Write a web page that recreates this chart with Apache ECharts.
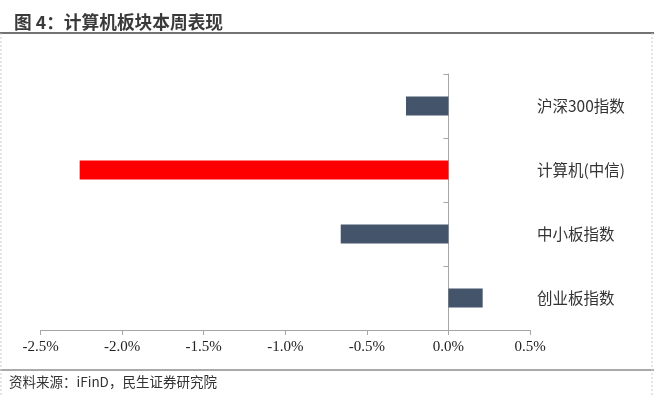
<!DOCTYPE html>
<html><head><meta charset="utf-8">
<script src="https://cdn.jsdelivr.net/npm/echarts@6/dist/echarts.min.js"></script>
<style>html,body{margin:0;padding:0;background:#fff}#c{width:654px;height:397px}</style>
</head><body><div id="c"></div>
<script>
const categories = ['沪深300指数', '计算机(中信)', '中小板指数', '创业板指数'];
const values = [-0.26, -2.26, -0.66, 0.21];
const barColors = ['#44546a', '#ff0000', '#44546a', '#44546a'];
const titleText = '图 4：计算机板块本周表现';
const sourceText = '资料来源：iFinD，民生证券研究院';

const chart = echarts.init(document.getElementById('c'));
chart.setOption({
  animation: false,
  backgroundColor: '#fff',
  title: {
    text: titleText, left: 9, top: 8,
    textStyle: {fontFamily: 'Noto Sans CJK SC', fontSize: 17.7, fontWeight: 'bold', color: '#3a3a3a'}
  },
  graphic: [
    {type: 'line', shape: {x1: 0, y1: 33, x2: 654, y2: 33}, style: {stroke: '#444', lineWidth: 1.5}},
    {type: 'line', shape: {x1: 0, y1: 370, x2: 654, y2: 370}, style: {stroke: '#555', lineWidth: 1}},
    {type: 'line', shape: {x1: 1, y1: 33, x2: 1, y2: 397}, style: {stroke: '#ccc', lineWidth: 1, lineDash: [2, 2]}},
    {type: 'line', shape: {x1: 652, y1: 33, x2: 652, y2: 397}, style: {stroke: '#ccc', lineWidth: 1, lineDash: [2, 2]}},
    {type: 'text', left: 9, top: 375, style: {text: sourceText, fontFamily: 'Noto Sans CJK SC', fontSize: 13.5, fill: '#333'}}
  ],
  grid: {left: 40.5, right: 124, top: 74, bottom: 67},
  xAxis: {
    type: 'value', min: -2.5, max: 0.5, interval: 0.5,
    axisLine: {show: true, lineStyle: {color: '#a6a6a6'}},
    axisTick: {show: true, length: 5, lineStyle: {color: '#a6a6a6'}},
    splitLine: {show: false},
    axisLabel: {
      formatter: v => v.toFixed(1) + '%', margin: 10,
      fontFamily: 'Liberation Serif', fontSize: 15, color: '#222'
    }
  },
  yAxis: [
    {
      type: 'category', data: categories, inverse: true,
      axisLine: {show: true, onZero: true, lineStyle: {color: '#a6a6a6'}},
      axisTick: {show: true, length: 5, lineStyle: {color: '#a6a6a6'}},
      axisLabel: {show: false}
    },
    {
      type: 'category', data: categories, inverse: true, position: 'right',
      axisLine: {show: false}, axisTick: {show: false},
      axisLabel: {show: true, align: 'left', margin: 7, fontFamily: 'Noto Sans CJK SC', fontSize: 15.5, color: '#333'}
    }
  ],
  series: [{
    type: 'bar', yAxisIndex: 0, barWidth: 19,
    data: values.map((v, i) => ({value: v, itemStyle: {color: barColors[i]}}))
  }]
});
</script></body></html>
